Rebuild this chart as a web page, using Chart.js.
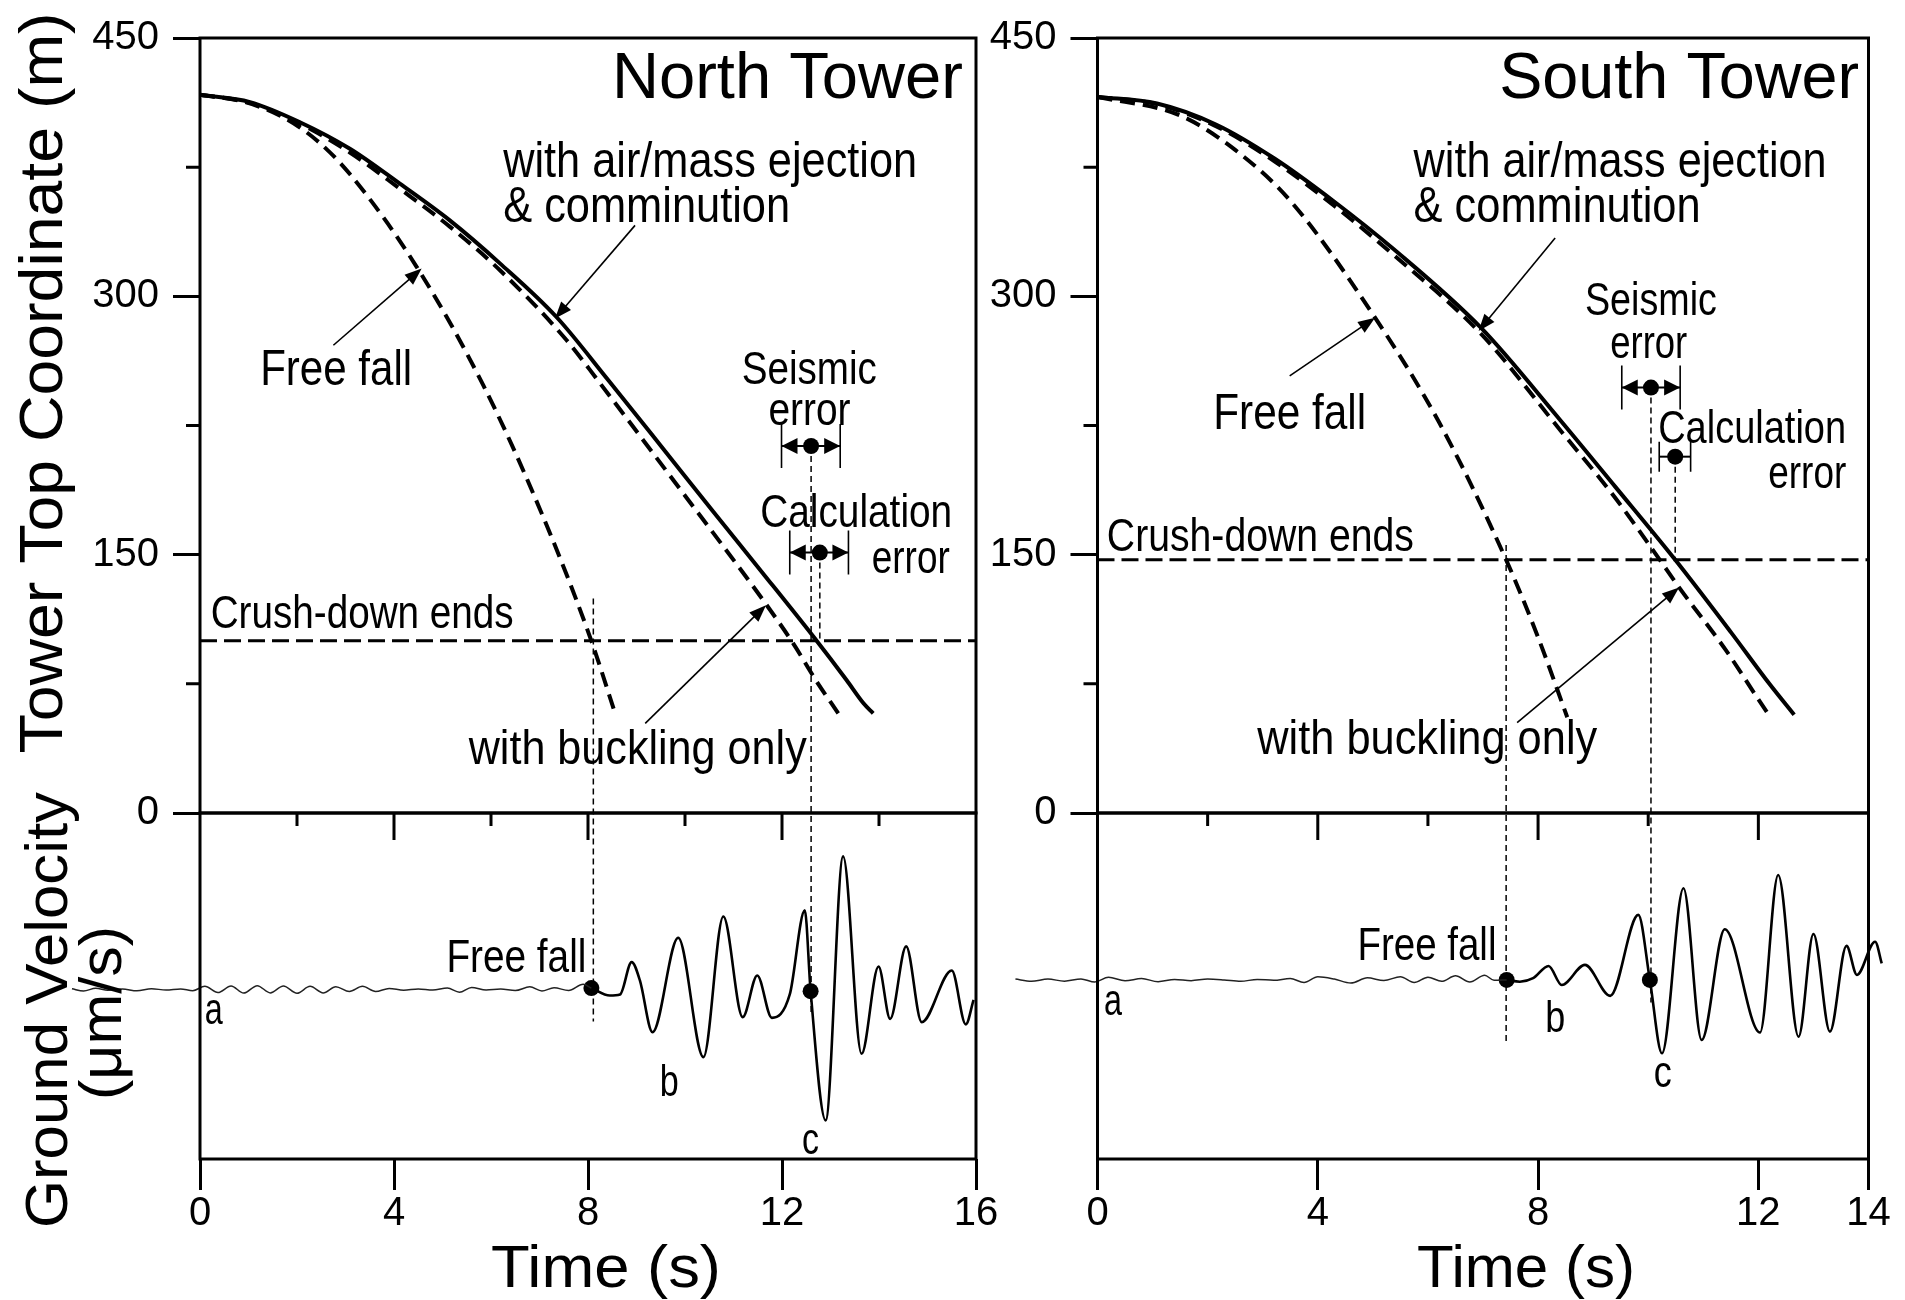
<!DOCTYPE html>
<html>
<head>
<meta charset="utf-8">
<title>Tower top coordinate and ground velocity</title>
<script src="https://cdn.jsdelivr.net/npm/chart.js@4.4.1/dist/chart.umd.min.js"></script>
<style>
  html, body { margin: 0; padding: 0; background: #fff; }
  #page { position: relative; width: 1905px; height: 1300px; overflow: hidden; background: #fff; }
  #page canvas { position: absolute; left: 0; top: 0; }
</style>
</head>
<body>
<div id="page">
  <canvas id="northTop" width="1905" height="1300"></canvas>
  <canvas id="southTop" width="1905" height="1300"></canvas>
  <canvas id="northBottom" width="1905" height="1300"></canvas>
  <canvas id="southBottom" width="1905" height="1300"></canvas>
</div>
<script>
const FONT = '"Liberation Sans", Arial, Helvetica, sans-serif';

// Axis ticks
const heightTicks = [0, 150, 300, 450];
const northTimeTicks = [0, 4, 8, 12, 16];
const southTimeTicks = [0, 4, 8, 12, 14];
const northTopTicks = [2, 4, 6, 8, 10, 12, 14];
const southTopTicks = [2, 4, 6, 8, 10, 12];

// North Tower - tower top coordinate (m) against time (s)
const northAirT = [0, 1.03, 2.06, 3.09, 4.12, 5.15, 6.19, 7.35, 8.42, 9.5, 10.58, 11.6, 12.65, 13.33, 13.68, 13.88];
const northAirH = [417, 412.8, 401.1, 385.7, 365.4, 344.1, 319, 288, 251.3, 213.3, 175, 139.4, 102.3, 77.2, 63.7, 57.9];
const northBuckleT = [0, 1.03, 2.06, 3.09, 4.12, 5.15, 6.19, 7.56, 8.2, 9.9, 11.61, 12.23, 12.7, 13.16];
const northBuckleH = [417, 412.3, 400.2, 383.5, 362.5, 340.5, 315, 274.5, 251.3, 188, 123.6, 98.5, 77, 57.9];
const northFreeT = [0, 0.9, 1.71, 2.41, 3.09, 4.47, 5.84, 7.0, 8.04, 8.56];
const northFreeH = [417, 413, 404, 390.5, 371, 317, 248.4, 177, 102.3, 57.9];
const northCrushH = 100;

// South Tower
const southAirT = [0, 1.08, 2.15, 3.22, 4.29, 5.37, 6.97, 8.4, 9.4, 10.49, 11.5, 12.2, 12.65];
const southAirH = [415.8, 412, 399.8, 379.9, 355.2, 327.6, 281.5, 228.2, 189.5, 147, 105, 75, 57];
const southBuckleT = [0, 1.08, 2.15, 3.22, 4.29, 5.37, 6.97, 8.4, 9.4, 10.21, 10.56, 11.4, 12.0, 12.22];
const southBuckleH = [415.8, 411.6, 398.8, 378.3, 352.8, 324.2, 278, 222.4, 183, 147, 131, 95, 66, 55.6];
const southFreeT = [0, 1.5, 2.5, 3.5, 5.04, 6.2, 7.42, 8.0, 8.53];
const southFreeH = [415.8, 405, 385, 355.5, 287.6, 227, 147, 102, 55.6];
const southCrushH = 147;

// error bars (time of the dot, height, bar ends)
const northErrT = [12.6, 12.78];
const northErrH = [213.1, 151.2];
const northErrLo = [11.99, 12.16];
const northErrHi = [13.2, 13.37];
const southErrT = [10.05, 10.49];
const southErrH = [247, 206.9];
const southErrLo = [9.52, 10.2];
const southErrHi = [10.58, 10.77];

// thin dashed guides (time, from height, to height; below 0 runs into the seismogram)
const northGuideT = [8.11, 12.6, 12.78];
const northGuideFrom = [124.6, 213.1, 151.2];
const northGuideTo = [-121, -116, 100];
const southGuideT = [7.42, 10.05, 10.49];
const southGuideFrom = [155.6, 247, 206.9];
const southGuideTo = [-133, -110, 147];

// ground velocity traces (arbitrary units, 0 = rest level)
const northQuietT = [-2.64, -2.4, -2.15, -1.9, -1.6, -1.3, -1.0, -0.7, -0.4, -0.15, 0.1, 0.37, 0.64, 0.9, 1.18, 1.45, 1.72, 2.0, 2.27, 2.54, 2.8, 3.08, 3.35, 3.62, 3.9, 4.2, 4.5, 4.8, 5.1, 5.35, 5.6, 5.9, 6.2, 6.5, 6.8, 7.05, 7.3, 7.6, 7.9, 8.07];
const northQuietV = [0.4, -0.9, 0.7, -0.4, 0.3, -0.8, 0.4, -0.3, 0.3, -0.7, 1.8, -1.8, 2.0, -2.1, 2.2, -2.0, 2.0, -2.2, 1.8, -2.0, 1.6, -1.2, 1.8, -1.2, 0.6, -0.4, 0.3, -0.3, 0.8, -1.6, 1.2, -0.3, 0.2, -0.6, 1.5, -0.9, 1.0, -0.6, 3.0, 0.8];
const northShakeT = [8.07, 8.45, 8.66, 8.9, 9.07, 9.33, 9.86, 10.38, 10.79, 11.19, 11.49, 11.79, 12.16, 12.47, 12.59, 12.9, 13.26, 13.64, 13.99, 14.23, 14.56, 14.88, 15.5, 15.79, 15.95];
const northShakeV = [0.8, -3.5, -2.9, 15.8, 5.2, -24.7, 29.9, -39.1, 42.2, -16, 8.1, -16.4, -2.9, 45.7, -1, -75.7, 76.9, -37.2, 13.3, -17, 24.9, -18.9, 11, -20.2, -6];
const northDotT = [8.07, 12.59];
const northDotV = [0.8, -1];

const southQuietT = [-1.49, -1.2, -0.9, -0.6, -0.3, -0.05, 0.2, 0.5, 0.8, 1.1, 1.4, 1.7, 2.0, 2.3, 2.6, 2.9, 3.2, 3.5, 3.75, 4.0, 4.3, 4.6, 4.9, 5.2, 5.5, 5.75, 6.0, 6.25, 6.5, 6.76, 7.03, 7.2, 7.43];
const southQuietV = [0.5, -0.8, 0.5, -0.7, 0.6, -1.2, 1.5, -0.5, 0.8, -1.0, 0.3, -0.4, 0.5, 0, -0.8, 0.3, -0.2, 0.8, -1.5, 1.8, 0.5, -1.8, 1.2, -0.3, 1.8, -1.5, 1.6, -0.8, 2.4, -1.2, 2.7, -0.2, 0];
const southShakeT = [7.43, 7.67, 7.91, 8.19, 8.43, 8.85, 9.31, 9.82, 10.03, 10.25, 10.64, 10.97, 11.39, 12.03, 12.36, 12.73, 13.0, 13.3, 13.6, 13.79, 14.12, 14.24];
const southShakeV = [0, -1, 1, 8.1, -2.9, 8.7, -9.2, 37.6, 0, -42.4, 53, -34.7, 29.3, -30.4, 60.7, -32.8, 26.6, -29.9, 19.7, 2.9, 22.1, 9.6];
const southDotT = [7.43, 10.03];
const southDotV = [0, 0];

// ---------------------------------------------------------------
const pts = (xs, ys) => xs.map((x, i) => ({ x: x, y: ys[i] }));

function curve(xs, ys, dash, width) {
  return {
    data: pts(xs, ys), borderColor: '#000', borderWidth: width || 4,
    borderDash: dash || [], cubicInterpolationMode: 'monotone', pointRadius: 0
  };
}

function guides(ts, from, to) {
  return ts.map((t, i) => ({
    data: [{ x: t, y: from[i] }, { x: t, y: to[i] }],
    borderColor: '#000', borderWidth: 1.5, borderDash: [6, 4], pointRadius: 0, clip: false
  }));
}

function dots(xs, ys) {
  return {
    data: pts(xs, ys), showLine: false, pointRadius: 8, pointBorderWidth: 0,
    pointBackgroundColor: '#000', clip: false
  };
}

function drawText(ctx, s, x, y, size, width, align) {
  ctx.save();
  ctx.font = size + 'px ' + FONT;
  const w = ctx.measureText(s).width;
  ctx.translate(x, y);
  ctx.scale(width ? width / w : 1, 1);
  ctx.textAlign = align || 'left';
  ctx.textBaseline = 'alphabetic';
  ctx.fillStyle = '#000';
  ctx.fillText(s, 0, 0);
  ctx.restore();
}

function drawVertText(ctx, s, x, y, size, width) {
  ctx.save();
  ctx.font = size + 'px ' + FONT;
  const w = ctx.measureText(s).width;
  ctx.translate(x, y);
  ctx.rotate(-Math.PI / 2);
  ctx.scale(width / w, 1);
  ctx.textAlign = 'center';
  ctx.textBaseline = 'alphabetic';
  ctx.fillStyle = '#000';
  ctx.fillText(s, 0, 0);
  ctx.restore();
}

function head(ctx, x, y, ang, len, half) {
  ctx.beginPath();
  ctx.moveTo(x, y);
  ctx.lineTo(x - len * Math.cos(ang) + half * Math.sin(ang), y - len * Math.sin(ang) - half * Math.cos(ang));
  ctx.lineTo(x - len * Math.cos(ang) - half * Math.sin(ang), y - len * Math.sin(ang) + half * Math.cos(ang));
  ctx.closePath();
  ctx.fill();
}

function drawArrow(ctx, x1, y1, x2, y2) {
  const a = Math.atan2(y2 - y1, x2 - x1);
  ctx.save();
  ctx.strokeStyle = '#000';
  ctx.fillStyle = '#000';
  ctx.lineWidth = 1.6;
  ctx.beginPath();
  ctx.moveTo(x1, y1);
  ctx.lineTo(x2 - 10 * Math.cos(a), y2 - 10 * Math.sin(a));
  ctx.stroke();
  head(ctx, x2, y2, a, 17, 6.5);
  ctx.restore();
}

function drawErrorBar(ctx, xs, ys, lo, hi, h, cap, arrows) {
  const x1 = xs.getPixelForValue(lo), x2 = xs.getPixelForValue(hi), y = ys.getPixelForValue(h);
  ctx.save();
  ctx.strokeStyle = '#000';
  ctx.fillStyle = '#000';
  ctx.lineWidth = 2;
  ctx.beginPath();
  ctx.moveTo(x1, y); ctx.lineTo(x2, y);
  ctx.stroke();
  ctx.lineWidth = 1.6;
  ctx.beginPath();
  ctx.moveTo(x1, y - cap); ctx.lineTo(x1, y + cap);
  ctx.moveTo(x2, y - cap); ctx.lineTo(x2, y + cap);
  ctx.stroke();
  if (arrows) {
    head(ctx, x1, y, Math.PI, 16, 8);
    head(ctx, x2, y, 0, 16, 8);
  }
  ctx.restore();
}

function frame(ctx, area) {
  ctx.save();
  ctx.strokeStyle = '#000';
  ctx.lineWidth = 3;
  ctx.strokeRect(area.left, area.top, area.right - area.left, area.bottom - area.top);
  ctx.restore();
}

function baseOptions(padding) {
  return {
    responsive: false, animation: false, devicePixelRatio: 1, events: [],
    layout: { padding: padding, autoPadding: false },
    plugins: { legend: { display: false }, tooltip: { enabled: false } },
    elements: { point: { radius: 0 }, line: { fill: false } }
  };
}

// widths reserved for the tick label boxes (labels are clipped to them)
const Y_BOX = 150;
const X_BOX = 100;

// top panel: tower top coordinate
function topChart(id, padding, xMax, topTicks, datasets, notes) {
  const decor = {
    id: id + 'Decor',
    afterDraw(chart) {
      const ctx = chart.ctx, xs = chart.scales.x, ys = chart.scales.y, a = chart.chartArea;
      frame(ctx, a);
      ctx.save();
      ctx.strokeStyle = '#000';
      ctx.lineWidth = 3;
      ctx.beginPath();
      // short ticks half way between labelled heights
      for (let i = 1; i < heightTicks.length; i++) {
        const y = ys.getPixelForValue((heightTicks[i - 1] + heightTicks[i]) / 2);
        ctx.moveTo(a.left, y); ctx.lineTo(a.left - 14, y);
      }
      // time ticks hanging from the zero line
      topTicks.forEach(t => {
        const x = xs.getPixelForValue(t);
        ctx.moveTo(x, a.bottom); ctx.lineTo(x, a.bottom + (t % 4 === 0 ? 27 : 13));
      });
      ctx.stroke();
      ctx.restore();
      notes.errors.forEach(e => drawErrorBar(ctx, xs, ys, e.lo, e.hi, e.h, e.cap, e.arrows));
      notes.arrows.forEach(r => drawArrow(ctx, xs.getPixelForValue(r[0]), ys.getPixelForValue(r[1]),
        xs.getPixelForValue(r[2]), ys.getPixelForValue(r[3])));
      notes.texts.forEach(n => drawText(ctx, n.s, xs.getPixelForValue(n.t), ys.getPixelForValue(n.h), n.size, n.w, n.align));
      if (notes.extra) notes.extra(ctx);
    }
  };
  padding.left -= Y_BOX;
  return new Chart(document.getElementById(id), {
    type: 'line',
    data: { datasets: datasets },
    options: Object.assign(baseOptions(padding), {
      scales: {
        x: { type: 'linear', min: 0, max: xMax, display: false },
        y: {
          type: 'linear', min: 0, max: 450,
          afterBuildTicks: s => { s.ticks = heightTicks.map(v => ({ value: v })); },
          afterFit: s => { s.width = Y_BOX; },
          grid: { drawOnChartArea: false, drawTicks: true, tickLength: 27, tickWidth: 3, tickColor: '#000' },
          border: { display: false },
          ticks: { padding: 14, color: '#000', font: { family: FONT, size: 40 } }
        }
      }
    }),
    plugins: [decor]
  });
}

// bottom panel: ground velocity
function bottomChart(id, padding, xMax, timeTicks, vMin, vMax, datasets, notes) {
  const decor = {
    id: id + 'Decor',
    afterDraw(chart) {
      const ctx = chart.ctx, xs = chart.scales.x, ys = chart.scales.y;
      frame(ctx, chart.chartArea);
      notes.texts.forEach(n => drawText(ctx, n.s, xs.getPixelForValue(n.t), ys.getPixelForValue(n.v), n.size, n.w, n.align));
      drawText(ctx, 'Time (s)', xs.getPixelForValue(notes.titleT), 1287, 60, notes.titleW, 'center');
      if (notes.extra) notes.extra(ctx);
    }
  };
  padding.bottom -= X_BOX;
  return new Chart(document.getElementById(id), {
    type: 'line',
    data: { datasets: datasets },
    options: Object.assign(baseOptions(padding), {
      scales: {
        x: {
          type: 'linear', bounds: 'data',
          afterDataLimits: s => { s.min = 0; s.max = xMax; },
          afterBuildTicks: s => { s.ticks = timeTicks.map(v => ({ value: v })); },
          afterFit: s => { s.height = X_BOX; },
          grid: { drawOnChartArea: false, drawTicks: true, tickLength: 31, tickWidth: 3, tickColor: '#000' },
          border: { display: false },
          ticks: { padding: 0, maxRotation: 0, autoSkip: false, color: '#000', font: { family: FONT, size: 40 } }
        },
        y: { type: 'linear', min: vMin, max: vMax, display: false }
      }
    }),
    plugins: [decor]
  });
}

const DASH = [15, 8];
const CRUSH_DASH = [17, 7];

topChart('northTop', { left: 200, top: 37, right: 929, bottom: 487 }, 16, northTopTicks, [
  curve(northAirT, northAirH),
  curve(northBuckleT, northBuckleH, DASH),
  curve(northFreeT, northFreeH, DASH),
  curve([0, 16], [northCrushH, northCrushH], CRUSH_DASH, 3),
  ...guides(northGuideT, northGuideFrom, northGuideTo),
  dots(northErrT, northErrH)
], {
  errors: [
    { lo: northErrLo[0], hi: northErrHi[0], h: northErrH[0], cap: 22, arrows: true },
    { lo: northErrLo[1], hi: northErrHi[1], h: northErrH[1], cap: 22, arrows: true }
  ],
  arrows: [[8.97, 341.2, 7.32, 287.1], [2.75, 271.6, 4.57, 316.1], [9.18, 52, 11.67, 120.7]],
  texts: [
    { s: 'North Tower', t: 15.73, h: 414.9, size: 64, w: 351, align: 'right' },
    { s: 'with air/mass ejection', t: 6.25, h: 369.1, size: 50, w: 414 },
    { s: '& comminution', t: 6.25, h: 343.1, size: 50, w: 287 },
    { s: 'Free fall', t: 1.24, h: 248.4, size: 50, w: 152 },
    { s: 'Seismic', t: 11.17, h: 249.3, size: 46, w: 135 },
    { s: 'error', t: 11.72, h: 225.1, size: 46, w: 82 },
    { s: 'Calculation', t: 11.55, h: 166.1, size: 46, w: 192 },
    { s: 'error', t: 13.85, h: 139.1, size: 46, w: 78 },
    { s: 'Crush-down ends', t: 0.22, h: 107.2, size: 46, w: 303 },
    { s: 'with buckling only', t: 5.54, h: 28.7, size: 48, w: 338 }
  ],
  extra: ctx => drawVertText(ctx, 'Tower Top Coordinate (m)', 62, 383, 62, 741)
});

topChart('southTop', { left: 1097.5, top: 38, right: 36.5, bottom: 487 }, 14, southTopTicks, [
  curve(southAirT, southAirH),
  curve(southBuckleT, southBuckleH, DASH),
  curve(southFreeT, southFreeH, DASH),
  curve([0, 14], [southCrushH, southCrushH], CRUSH_DASH, 3),
  ...guides(southGuideT, southGuideFrom, southGuideTo),
  dots(southErrT, southErrH)
], {
  errors: [
    { lo: southErrLo[0], hi: southErrHi[0], h: southErrH[0], cap: 22, arrows: true },
    { lo: southErrLo[1], hi: southErrHi[1], h: southErrH[1], cap: 15, arrows: false }
  ],
  arrows: [[8.31, 333.9, 6.92, 279.9], [3.49, 253.8, 5.04, 287.6], [7.62, 52.5, 10.56, 130.9]],
  texts: [
    { s: 'South Tower', t: 13.83, h: 415.2, size: 64, w: 360, align: 'right' },
    { s: 'with air/mass ejection', t: 5.74, h: 369.1, size: 50, w: 413 },
    { s: '& comminution', t: 5.74, h: 343.2, size: 50, w: 287 },
    { s: 'Free fall', t: 2.1, h: 223.1, size: 50, w: 153 },
    { s: 'Seismic', t: 8.85, h: 289.2, size: 46, w: 132 },
    { s: 'error', t: 9.31, h: 264, size: 46, w: 77 },
    { s: 'Calculation', t: 10.18, h: 214.7, size: 46, w: 188 },
    { s: 'error', t: 12.18, h: 188.5, size: 46, w: 78 },
    { s: 'Crush-down ends', t: 0.17, h: 152.1, size: 46, w: 307 },
    { s: 'with buckling only', t: 2.9, h: 34, size: 48, w: 340 }
  ]
});

bottomChart('northBottom', { left: 200, top: 813, right: 929, bottom: 141 }, 16, northTimeTicks, -98, 102, [
  Object.assign(curve(northQuietT, northQuietV, [], 1.5), { borderColor: '#222', clip: false }),
  Object.assign(curve(northShakeT, northShakeV, [], 2.6), { clip: false }),
  dots(northDotT, northDotV)
], {
  texts: [
    { s: 'Free fall', t: 5.08, v: 10, size: 46, w: 140 },
    { s: 'a', t: 0.1, v: -19.9, size: 44, w: 18 },
    { s: 'b', t: 9.48, v: -61.3, size: 44, w: 19 },
    { s: 'c', t: 12.41, v: -95, size: 44, w: 17 }
  ],
  titleT: 8.37, titleW: 230,
  extra: ctx => {
    drawVertText(ctx, 'Ground Velocity', 67, 1010, 60, 436);
    drawVertText(ctx, '(\u03bcm/s)', 121, 1013, 60, 174);
  }
});

bottomChart('southBottom', { left: 1097.5, top: 813, right: 36.5, bottom: 141 }, 14, southTimeTicks, -103.5, 96.5, [
  Object.assign(curve(southQuietT, southQuietV, [], 1.5), { borderColor: '#222', clip: false }),
  Object.assign(curve(southShakeT, southShakeV, [], 2.6), { clip: false }),
  dots(southDotT, southDotV)
], {
  texts: [
    { s: 'Free fall', t: 4.72, v: 11.6, size: 46, w: 139 },
    { s: 'a', t: 0.12, v: -20.2, size: 44, w: 18 },
    { s: 'b', t: 8.13, v: -29.9, size: 44, w: 20 },
    { s: 'c', t: 10.1, v: -61.7, size: 44, w: 18 }
  ],
  titleT: 7.78, titleW: 218
});
</script>
</body>
</html>
